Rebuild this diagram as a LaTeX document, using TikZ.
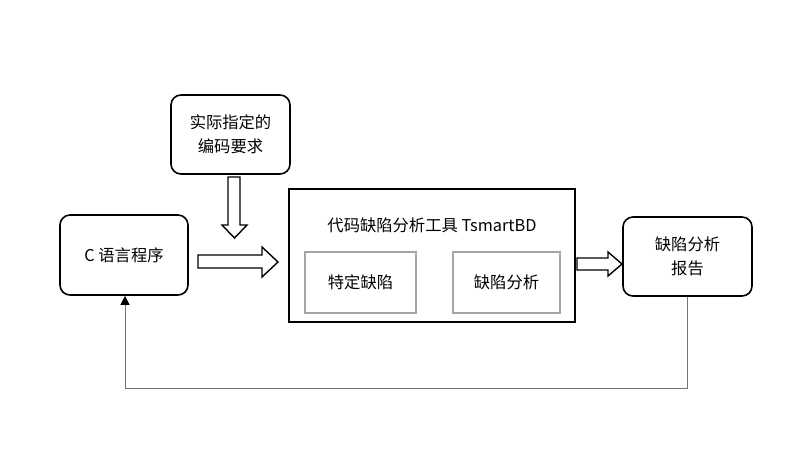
\documentclass[tikz,border=0pt]{standalone}
\usepackage{fontspec}
\setmainfont{Noto Sans CJK SC}
\usetikzlibrary{arrows.meta,calc}
\begin{document}
\begin{tikzpicture}[x=1pt,y=-1pt,
  txt/.style={font=\fontsize{16.3}{24}\selectfont},
  rbox/.style={txt,draw=black,line width=1.6pt,rounded corners=10pt,align=center,inner sep=0pt},
  mainbox/.style={draw=black,line width=1.6pt,inner sep=0pt},
  subbox/.style={txt,draw=black!35,line width=1.3pt,inner sep=0pt},
  blockarrow/.style={draw=black,line width=1.4pt,fill=white,line join=miter},
  feedback/.style={draw=black!55,line width=1pt,-{Triangle[length=9pt,width=9pt,color=black]}}]
\useasboundingbox (0,0) rectangle (811,475);
\node[rbox,minimum width=119pt,minimum height=79pt] (req) at (230.5,134.5) {实际指定的\\编码要求};
\node[rbox,minimum width=128pt,minimum height=80pt] (c) at (124,255) {C 语言程序};
\node[mainbox,minimum width=286pt,minimum height=133pt] (tool) at (432,255.5) {};
\node[txt] (title) at (432,225) {代码缺陷分析工具 TsmartBD};
\node[subbox,minimum width=111pt,minimum height=61pt] (s1) at (360.5,282.5) {特定缺陷};
\node[subbox,minimum width=107pt,minimum height=61pt] (s2) at (506.5,282.5) {缺陷分析};
\node[rbox,minimum width=129pt,minimum height=79pt] (rep) at (687.5,256.5) {缺陷分析\\报告};
% down block arrow
\draw[blockarrow] (228,177) -- (240,177) -- (240,225) -- (247,225) -- (234.5,238) -- (222,225) -- (228,225) -- cycle;
% right block arrow 1
\draw[blockarrow] (198,255) -- (262,255) -- (262,247) -- (278,262) -- (262,277) -- (262,268) -- (198,268) -- cycle;
% right block arrow 2
\draw[blockarrow] (577,258) -- (608,258) -- (608,252) -- (622,264) -- (608,276) -- (608,270) -- (577,270) -- cycle;
% feedback
\coordinate (b1) at (rep.south |- 0,388);
\draw[feedback] (rep.south) -- (b1) -- (b1 -| 125,0) -- (125,0 |- c.south);
\end{tikzpicture}
\end{document}
